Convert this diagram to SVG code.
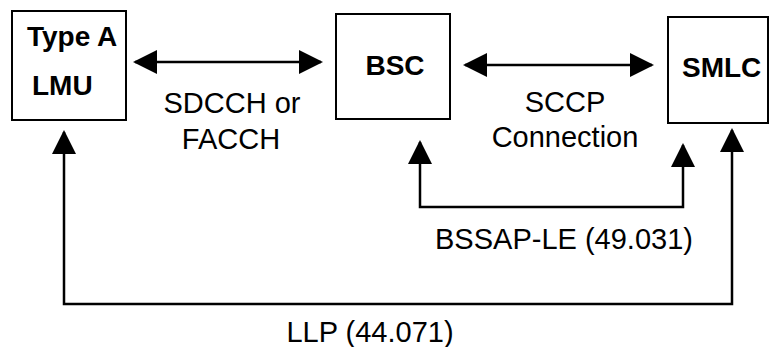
<svg xmlns="http://www.w3.org/2000/svg" width="770" height="347" viewBox="0 0 770 347">
<style>
.box{fill:#fff;stroke:#000;stroke-width:2}
.ln{fill:none;stroke:#000;stroke-width:2.5}
.b{font-family:"Liberation Sans",Arial,sans-serif;font-weight:bold;font-size:28px;fill:#000}
.t{font-family:"Liberation Sans",Arial,sans-serif;font-size:29px;fill:#000;text-anchor:middle}
</style>
<defs>
<marker id="ah" viewBox="0 0 24 24" refX="22" refY="12" markerWidth="24" markerHeight="24" markerUnits="userSpaceOnUse" orient="auto-start-reverse">
<path d="M0,0 L24,12 L0,24 Z" fill="#000"/>
</marker>
</defs>
<rect width="770" height="347" fill="#fff"/>
<g id="lmu">
<rect class="box" x="12" y="11" width="114" height="109"/>
<text class="b" x="27" y="46">Type A</text>
<text class="b" x="32" y="95">LMU</text>
</g>
<g id="bsc">
<rect class="box" x="336" y="14" width="114" height="105"/>
<text class="b" x="395" y="75" text-anchor="middle">BSC</text>
</g>
<g id="smlc">
<rect class="box" x="668" y="17" width="100" height="106"/>
<text class="b" x="682" y="77">SMLC</text>
</g>
<g id="connectors">
<line class="ln" x1="135" y1="62" x2="321" y2="62" marker-start="url(#ah)" marker-end="url(#ah)"/>
<line class="ln" x1="465" y1="65" x2="652" y2="65" marker-start="url(#ah)" marker-end="url(#ah)"/>
<polyline class="ln" points="420,142 420,207 683,207 683,145" marker-start="url(#ah)" marker-end="url(#ah)"/>
<polyline class="ln" points="64,132 64,304 732,304 732,130" marker-start="url(#ah)" marker-end="url(#ah)"/>
</g>
<g id="labels">
<text class="t" x="232" y="113">SDCCH or</text>
<text class="t" x="231" y="149">FACCH</text>
<text class="t" x="565" y="112">SCCP</text>
<text class="t" x="565" y="147">Connection</text>
<text class="t" x="564" y="249">BSSAP-LE (49.031)</text>
<text class="t" x="370" y="342">LLP (44.071)</text>
</g>
</svg>
